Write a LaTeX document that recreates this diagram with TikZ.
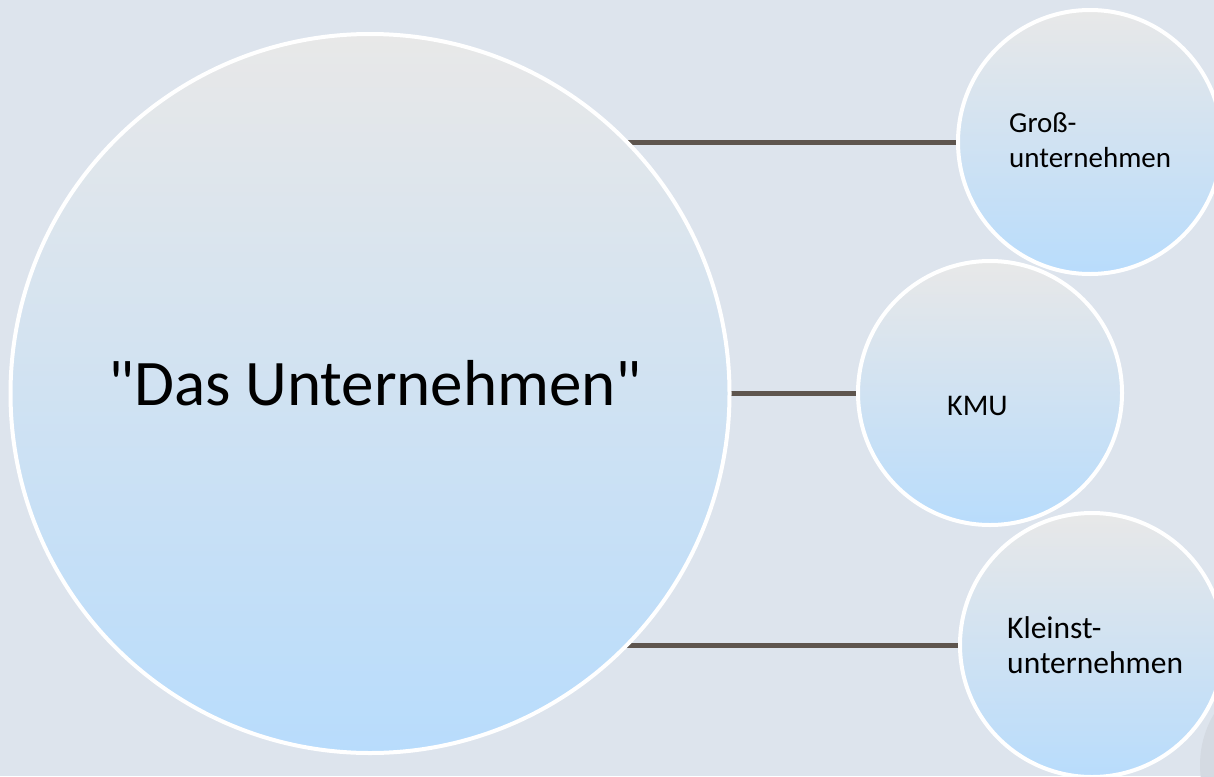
\documentclass[tikz,border=0pt]{standalone}
\usepackage{fontspec}
\setmainfont{Carlito}[Ligatures=TeXOff]
\definecolor{bgc}{HTML}{DDE4ED}
\definecolor{shadec}{HTML}{D4DAE2}
\definecolor{topc}{HTML}{E8E8E8}
\definecolor{botc}{HTML}{B8DCFC}
\definecolor{linec}{HTML}{5E554E}
\pgfdeclarelayer{back}
\pgfdeclarelayer{bg}
\pgfsetlayers{back,bg,main}
\begin{document}
\begin{tikzpicture}[x=1pt,y=-1pt,
  bubble/.style={circle, draw=white, line width=4pt, top color=topc, bottom color=botc, inner sep=0pt, outer sep=0pt},
  link/.style={draw=linec, line width=5pt},
  smalltext/.style={anchor=base west, inner sep=0pt},
  bigtext/.style={font=\fontsize{65}{78}\selectfont, anchor=base, inner sep=0pt}]
\useasboundingbox (0,0) rectangle (1214,776);
\begin{pgfonlayer}{back}
\fill[bgc] (0,0) rectangle (1214,776);
\fill[shadec] (1300,765) circle[radius=100];
\end{pgfonlayer}
\node[bubble, minimum size=719pt] (big) at (370,393.5) {};
\node[bubble, minimum size=264pt] (g) at (1090,142) {};
\node[bubble, minimum size=264pt] (k) at (990,393) {};
\node[bubble, minimum size=264pt] (s) at (1092,645) {};
\begin{pgfonlayer}{bg}
\draw[link] (big.center |- g.center) -- (g.center);
\draw[link] (big.center |- k.center) -- (k.center);
\draw[link] (big.center |- s.center) -- (s.center);
\end{pgfonlayer}
\node[bigtext] (t0) at (375,405) {"Das Unternehmen"};
\node[smalltext, font=\fontsize{29}{34}\selectfont] (g1) at (1009,132) {Groß-};
\node[smalltext, font=\fontsize{29}{34}\selectfont] (g2) at (1009,167) {unternehmen};
\node[smalltext, font=\fontsize{30}{36}\selectfont] (k1) at (947,415) {KMU};
\node[smalltext, font=\fontsize{31.5}{38}\selectfont] (s1) at (1007,638) {Kleinst-};
\node[smalltext, font=\fontsize{31.5}{38}\selectfont] (s2) at (1007,673) {unternehmen};
\end{tikzpicture}
\end{document}
